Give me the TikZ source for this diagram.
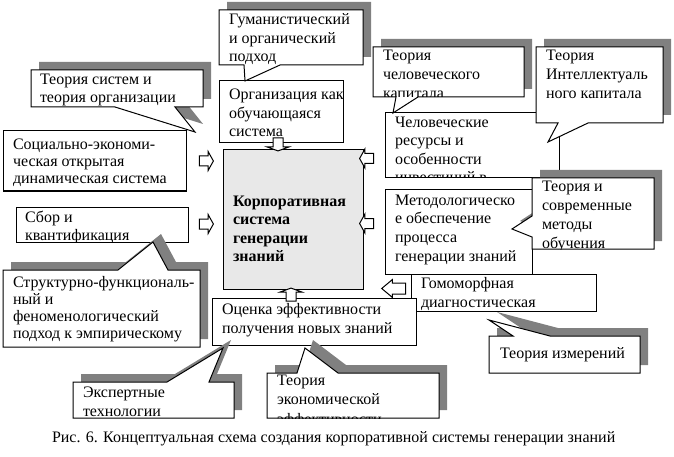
\documentclass[tikz,border=0pt]{standalone}
\usepackage{fontspec}
\setmainfont{Liberation Serif}
\usepackage{tikz}
\usetikzlibrary{shapes.arrows}
\definecolor{coregray}{RGB}{232,232,232}
\definecolor{shadowgray}{RGB}{128,128,128}
\newcommand{\boxlines}[2][18.4]{\parbox[t]{230pt}{\fontsize{16}{#1}\selectfont\raggedright #2}}

\begin{document}
\begin{tikzpicture}[x=1pt, y=-1pt, line width=1pt,
  box/.style={draw, fill=white, rectangle, anchor=north west, inner sep=0pt, outer sep=0pt},
  callout/.style={draw, fill=white, preaction={fill=shadowgray, transform canvas={xshift=8pt, yshift=8pt}}},
  txt/.style={anchor=base west, inner sep=0pt, outer sep=0pt},
  blockarrow/.style={single arrow, draw, fill=white, inner xsep=0pt, inner ysep=4.5pt, outer sep=0pt, minimum height=14pt, single arrow head extend=4.5pt, single arrow tip angle=122},
  flatarrow/.style={blockarrow, minimum height=13pt, single arrow head extend=6pt, single arrow tip angle=140},
  longarrow/.style={blockarrow, inner ysep=5pt, minimum height=24pt, single arrow head extend=3.5pt, single arrow tip angle=80}]
\useasboundingbox (0,0) rectangle (674,457);
% draws boxes
\node[box, minimum width=124pt, minimum height=62pt] (org) at (219,81) {};
\node[box, minimum width=183pt, minimum height=60pt] (soc) at (3,131) {};
\node[box, fill=coregray, minimum width=140pt, minimum height=139pt] (core) at (223,150) {};
\node[box, minimum width=172pt, minimum height=35pt] (sbor) at (16,207) {};
\node[box, minimum width=174pt, minimum height=65pt] (human) at (385,113) {};
\node[box, minimum width=147pt, minimum height=84pt] (metod) at (385,190) {};
\node[box, minimum width=185pt, minimum height=37pt] (gomo) at (411,274) {};
\node[box, minimum width=204pt, minimum height=47pt] (ocenka) at (212,298) {};
% texts of boxes
\begin{scope}
\clip (org.north west) rectangle (org.south east);
\node[txt] (orgtext) at (229,100) {\boxlines{Организация как\\обучающаяся\\система}};
\end{scope}
\begin{scope}
\clip (soc.north west) rectangle (soc.south east);
\node[txt] (soctext) at (13,150) {\boxlines[17]{Социально-экономи-\\ческая открытая\\динамическая система}};
\end{scope}
\node[txt] (coretext) at (233,206.5) {\boxlines{\bfseries Корпоративная\\система\\генерации\\знаний}};
\begin{scope}
\clip (sbor.north west) rectangle (sbor.south east);
\node[txt] (sbortext) at (25,222) {\boxlines[18]{Сбор и\\квантификация}};
\end{scope}
\begin{scope}
\clip (human.north west) rectangle (human.south east);
\node[txt] (humantext) at (395,127.5) {\boxlines[18.5]{Человеческие\\ресурсы и\\особенности\\инвестиций в}};
\end{scope}
\begin{scope}
\clip (metod.north west) rectangle (metod.south east);
\node[txt] (metodtext) at (395,205) {\boxlines[18.7]{Методологическо\\е обеспечение\\процесса\\генерации знаний}};
\end{scope}
\begin{scope}
\clip (gomo.north west) rectangle (gomo.south east);
\node[txt] (gomotext) at (421,288) {\boxlines[19]{Гомоморфная\\диагностическая}};
\end{scope}
\begin{scope}
\clip (ocenka.north west) rectangle (ocenka.south east);
\node[txt] (ocenkatext) at (222,314) {\boxlines[19]{Оценка эффективности\\получения новых знаний}};
\end{scope}
% draws block arrows
\node[blockarrow] (arrL1) at (205,161) {};
\node[blockarrow] (arrL2) at (205,224) {};
\node[blockarrow, rotate=180] (arrR1) at (368,158.5) {};
\node[blockarrow, rotate=180] (arrR2) at (368,223.5) {};
\node[flatarrow, rotate=-90] (arrT) at (278,143.5) {};
\node[flatarrow, rotate=90] (arrB) at (291,295.5) {};
\node[longarrow, rotate=180] (arrG) at (397,288.5) {};
% draws callouts
\coordinate (gum tip) at (245,81);
\draw[callout] (219,10) -- (363,10) -- (363,65) -- (280,65) -- (gum tip) -- (244,65) -- (219,65) -- cycle;
\begin{scope}
\clip (219,10) rectangle (363,65);
\node[txt] (gum) at (229,25) {\boxlines{Гуманистический\\и органический\\подход}};
\end{scope}
\coordinate (tsys tip) at (195,132);
\draw[callout] (31,70) -- (203,70) -- (203,107) -- (175,107) -- (tsys tip) -- (115,107) -- (31,107) -- cycle;
\begin{scope}
\clip (31,70) rectangle (203,107);
\node[txt] (tsys) at (40,85) {\boxlines[18]{Теория систем и\\теория организации}};
\end{scope}
\coordinate (tchk tip) at (393,113);
\draw[callout] (373,47) -- (524,47) -- (524,97) -- (418,97) -- (tchk tip) -- (396,97) -- (373,97) -- cycle;
\begin{scope}
\clip (373,47) rectangle (524,97);
\node[txt] (tchk) at (383,61) {\boxlines[19]{Теория\\человеческого\\капитала}};
\end{scope}
\coordinate (intel tip) at (548,142);
\draw[callout] (536,47) -- (663,47) -- (663,123) -- (588,123) -- (intel tip) -- (558,123) -- (536,123) -- cycle;
\begin{scope}
\clip (536,47) rectangle (663,123);
\node[txt] (intel) at (546,61) {\boxlines[19]{Теория\\Интеллектуаль\\ного капитала}};
\end{scope}
\coordinate (tmet tip) at (512,229);
\draw[callout] (532,178) -- (654,178) -- (654,249) -- (532,249) -- (532,237) -- (tmet tip) -- (532,216) -- cycle;
\begin{scope}
\clip (532,178) rectangle (654,249);
\node[txt] (tmet) at (542,192) {\boxlines[19]{Теория и\\современные\\методы\\обучения}};
\end{scope}
\coordinate (struct tip) at (153,242);
\draw[callout] (3,270) -- (118,270) -- (struct tip) -- (168,270) -- (200,270) -- (200,347) -- (3,347) -- cycle;
\begin{scope}
\clip (3,270) rectangle (200,347);
\node[txt] (struct) at (13,287) {\boxlines[17]{Структурно-функциональ-\\ный и\\феноменологический\\подход к эмпирическому}};
\end{scope}
\coordinate (expert tip) at (223,348);
\draw[callout] (73,382) -- (167,382) -- (expert tip) -- (209,382) -- (234,382) -- (234,418) -- (73,418) -- cycle;
\begin{scope}
\clip (73,382) rectangle (234,418);
\node[txt] (expert) at (83,397) {\boxlines[19]{Экспертные\\технологии}};
\end{scope}
\coordinate (econ tip) at (305,348);
\draw[callout] (267,373) -- (297,373) -- (econ tip) -- (338,373) -- (439,373) -- (439,418) -- (267,418) -- cycle;
\begin{scope}
\clip (267,373) rectangle (439,418);
\node[txt] (econ) at (277,385) {\boxlines[19.5]{Теория\\экономической\\эффективности}};
\end{scope}
\coordinate (tizm tip) at (489,320);
\draw[callout] (489,336) -- (513,336) -- (tizm tip) -- (550,336) -- (640,336) -- (640,373) -- (489,373) -- cycle;
\node[txt] (tizm) at (500,358) {\boxlines{Теория измерений}};
% caption
\node[txt] (caption) at (52,442) {\fontsize{16}{19}\selectfont Рис. 6. Концептуальная схема создания корпоративной системы генерации знаний};
\end{tikzpicture}
\end{document}
